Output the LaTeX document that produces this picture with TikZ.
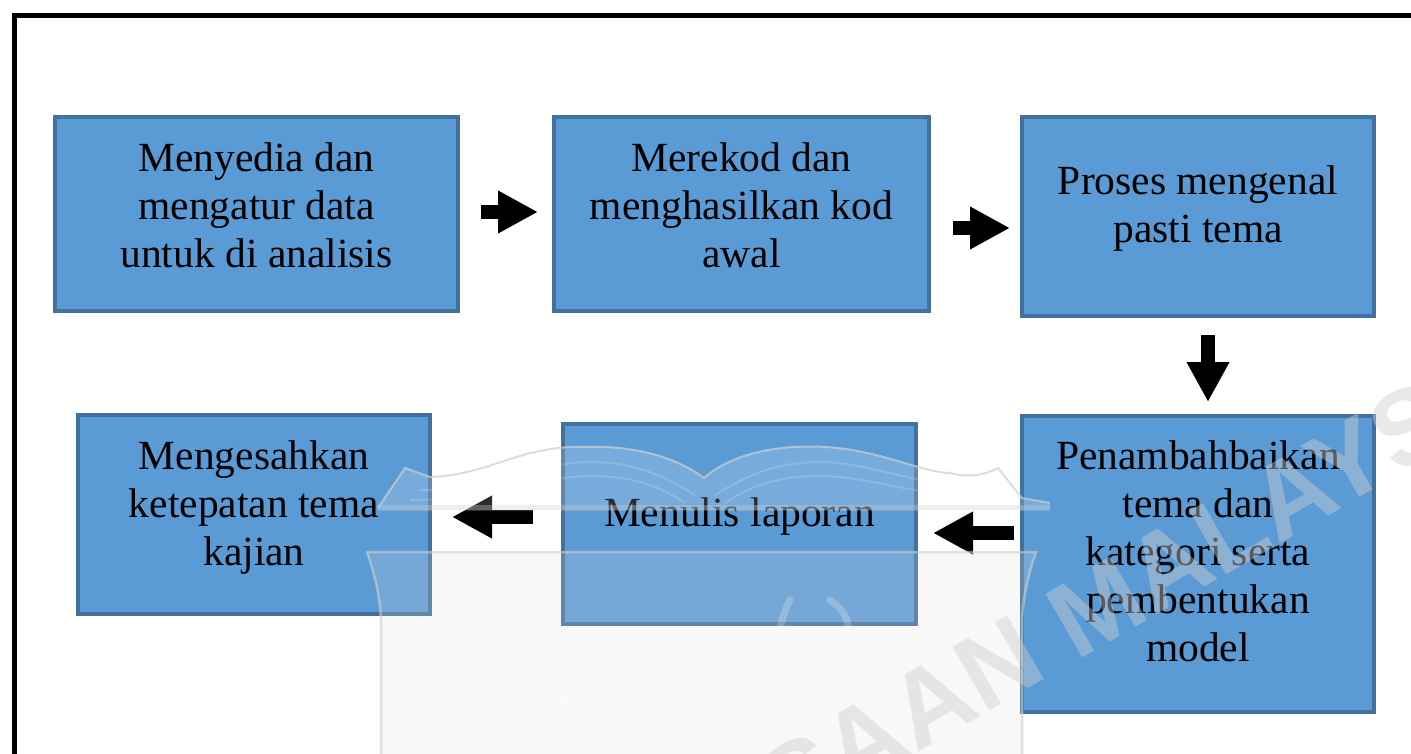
\documentclass[tikz,border=0pt]{standalone}
\usepackage{fontspec}
\setmainfont{Liberation Serif}
\newfontfamily\wmfont{Liberation Sans}
\usetikzlibrary{arrows.meta}
\definecolor{boxfill}{HTML}{5B9BD5}
\definecolor{boxedge}{HTML}{41719C}
\definecolor{wmedge}{HTML}{CFCFCF}
\definecolor{wmshield}{HTML}{DDDDDD}
\definecolor{wmletter}{HTML}{CFCFD2}
\tikzset{
 x=1pt,y=-1pt,
 stepbox/.style={draw=boxedge,line width=4pt,fill=boxfill,inner sep=0pt,outer sep=0pt,anchor=north west,align=center,
   font=\fontsize{41.5}{48}\selectfont,text=black},
 flow/.style={line width=14.5pt,-{Triangle[length=40pt,width=40pt]}},
 bookfill/.style={fill=white,fill opacity=.17},
 bookedge/.style={draw=wmedge,draw opacity=.7,line width=2pt},
 bookband/.style={draw=wmedge,draw opacity=.35,line width=5pt},
 bookline/.style={draw=white,draw opacity=.16,line width=2pt},
 shieldshape/.style={draw=wmedge,draw opacity=.6,line width=2.5pt,fill=wmshield,fill opacity=.2},
 tigerline/.style={draw=white,draw opacity=.22,line width=7pt,line cap=round},
 wmtext/.style={font=\wmfont\bfseries\fontsize{107}{107}\selectfont,text=wmletter,text opacity=.44,inner sep=0pt}
}
\begin{document}
\begin{tikzpicture}
\useasboundingbox (0,0) rectangle (1411,754);
\clip (0,0) rectangle (1411,754);
\fill[white] (0,0) rectangle (1411,754);
\draw[line width=5pt] (1420,15.5) -- (14,15.5) -- (14,760);
\node[stepbox,minimum width=403pt,minimum height=194pt] (a) at (55,117) {Menyedia dan\\mengatur data\\untuk di analisis\\[-30pt]};
\node[stepbox,minimum width=375pt,minimum height=194pt] (b) at (554,117) {Merekod dan\\menghasilkan kod\\awal\\[-30pt]};
\node[stepbox,minimum width=352pt,minimum height=199pt] (c) at (1022,117) {Proses mengenal\\pasti tema\\[-23pt]};
\node[stepbox,minimum width=352pt,minimum height=296pt] (d) at (1022,416) {Penambahbaikan\\tema dan\\kategori serta\\pembentukan\\model\\[-23pt]};
\node[stepbox,minimum width=353pt,minimum height=200pt] (e) at (563,424) {Menulis laporan\\[-24pt]};
\node[stepbox,minimum width=352pt,minimum height=199pt] (f) at (78,415) {Mengesahkan\\ketepatan tema\\kajian\\[-25pt]};
\draw[flow,shorten <=23pt,shorten >=16pt] ([yshift=2pt]a.east) -- ([yshift=2pt]a.east -| b.west);
\draw[flow,shorten <=24pt,shorten >=12pt] ([yshift=-14pt]b.east) -- ([yshift=-14pt]b.east -| c.west);
\draw[flow,shorten <=19pt,shorten >=14pt] ([xshift=10pt]c.south) -- ([xshift=10pt]d.north);
\draw[flow,shorten <=8pt,shorten >=17pt] ([yshift=31pt]d.west) -- ([yshift=31pt]d.west -| e.east);
\draw[flow,shorten <=30pt,shorten >=22pt] ([yshift=7pt]e.west) -- ([yshift=7pt]e.west -| f.east);
% watermark
\path[bookfill] (378,508) -- (405,468) -- (430,477) .. controls (490,475) and (520,445) .. (585,447) .. controls (640,445) and (680,460) .. (704,478) .. controls (730,455) and (775,444) .. (825,447) .. controls (880,450) and (920,472) .. (950,473) .. controls (970,478) and (985,475) .. (998,468) -- (1022,498) -- (1050,503) -- (1050,511) -- (378,511) -- cycle;
\draw[bookedge] (378,508) -- (405,468) -- (430,477) .. controls (490,475) and (520,445) .. (585,447) .. controls (640,445) and (680,460) .. (704,478) .. controls (730,455) and (775,444) .. (825,447) .. controls (880,450) and (920,472) .. (950,473) .. controls (970,478) and (985,475) .. (998,468) -- (1022,498) -- (1050,503);
\draw[bookband] (378,507) -- (1050,507);
\draw[bookline] (420,490) .. controls (500,490) and (540,462) .. (590,462) .. controls (640,462) and (670,480) .. (695,495);
\draw[bookline] (410,500) .. controls (500,500) and (540,476) .. (590,476) .. controls (640,476) and (665,490) .. (685,503);
\draw[bookline] (1000,490) .. controls (930,490) and (870,462) .. (820,462) .. controls (770,462) and (740,480) .. (715,495);
\draw[bookline] (1010,500) .. controls (930,500) and (870,476) .. (820,476) .. controls (770,476) and (745,490) .. (725,503);
\draw[shieldshape] (367,552) -- (1036,552) .. controls (1028,575) and (1022,600) .. (1022,625) -- (1022,770) -- (381,770) -- (381,625) .. controls (381,600) and (375,575) .. (367,552) -- cycle;
\draw[tigerline] (505,605) .. controls (500,625) and (510,640) .. (525,650);
\draw[tigerline] (565,640) .. controls (555,665) and (555,685) .. (565,705);
\draw[tigerline] (620,640) .. controls (610,665) and (610,685) .. (618,710);
\draw[tigerline] (675,640) .. controls (665,665) and (665,685) .. (672,705);
\draw[tigerline] (790,600) .. controls (770,640) and (775,680) .. (800,710);
\draw[tigerline] (830,600) .. controls (860,620) and (850,650) .. (820,660);
\draw[tigerline] (480,715) .. controls (530,690) and (600,700) .. (660,745);
\node[wmtext,rotate=30,anchor=base west] (w) at (788,828) {SAAN MALAYS};
\end{tikzpicture}
\end{document}
